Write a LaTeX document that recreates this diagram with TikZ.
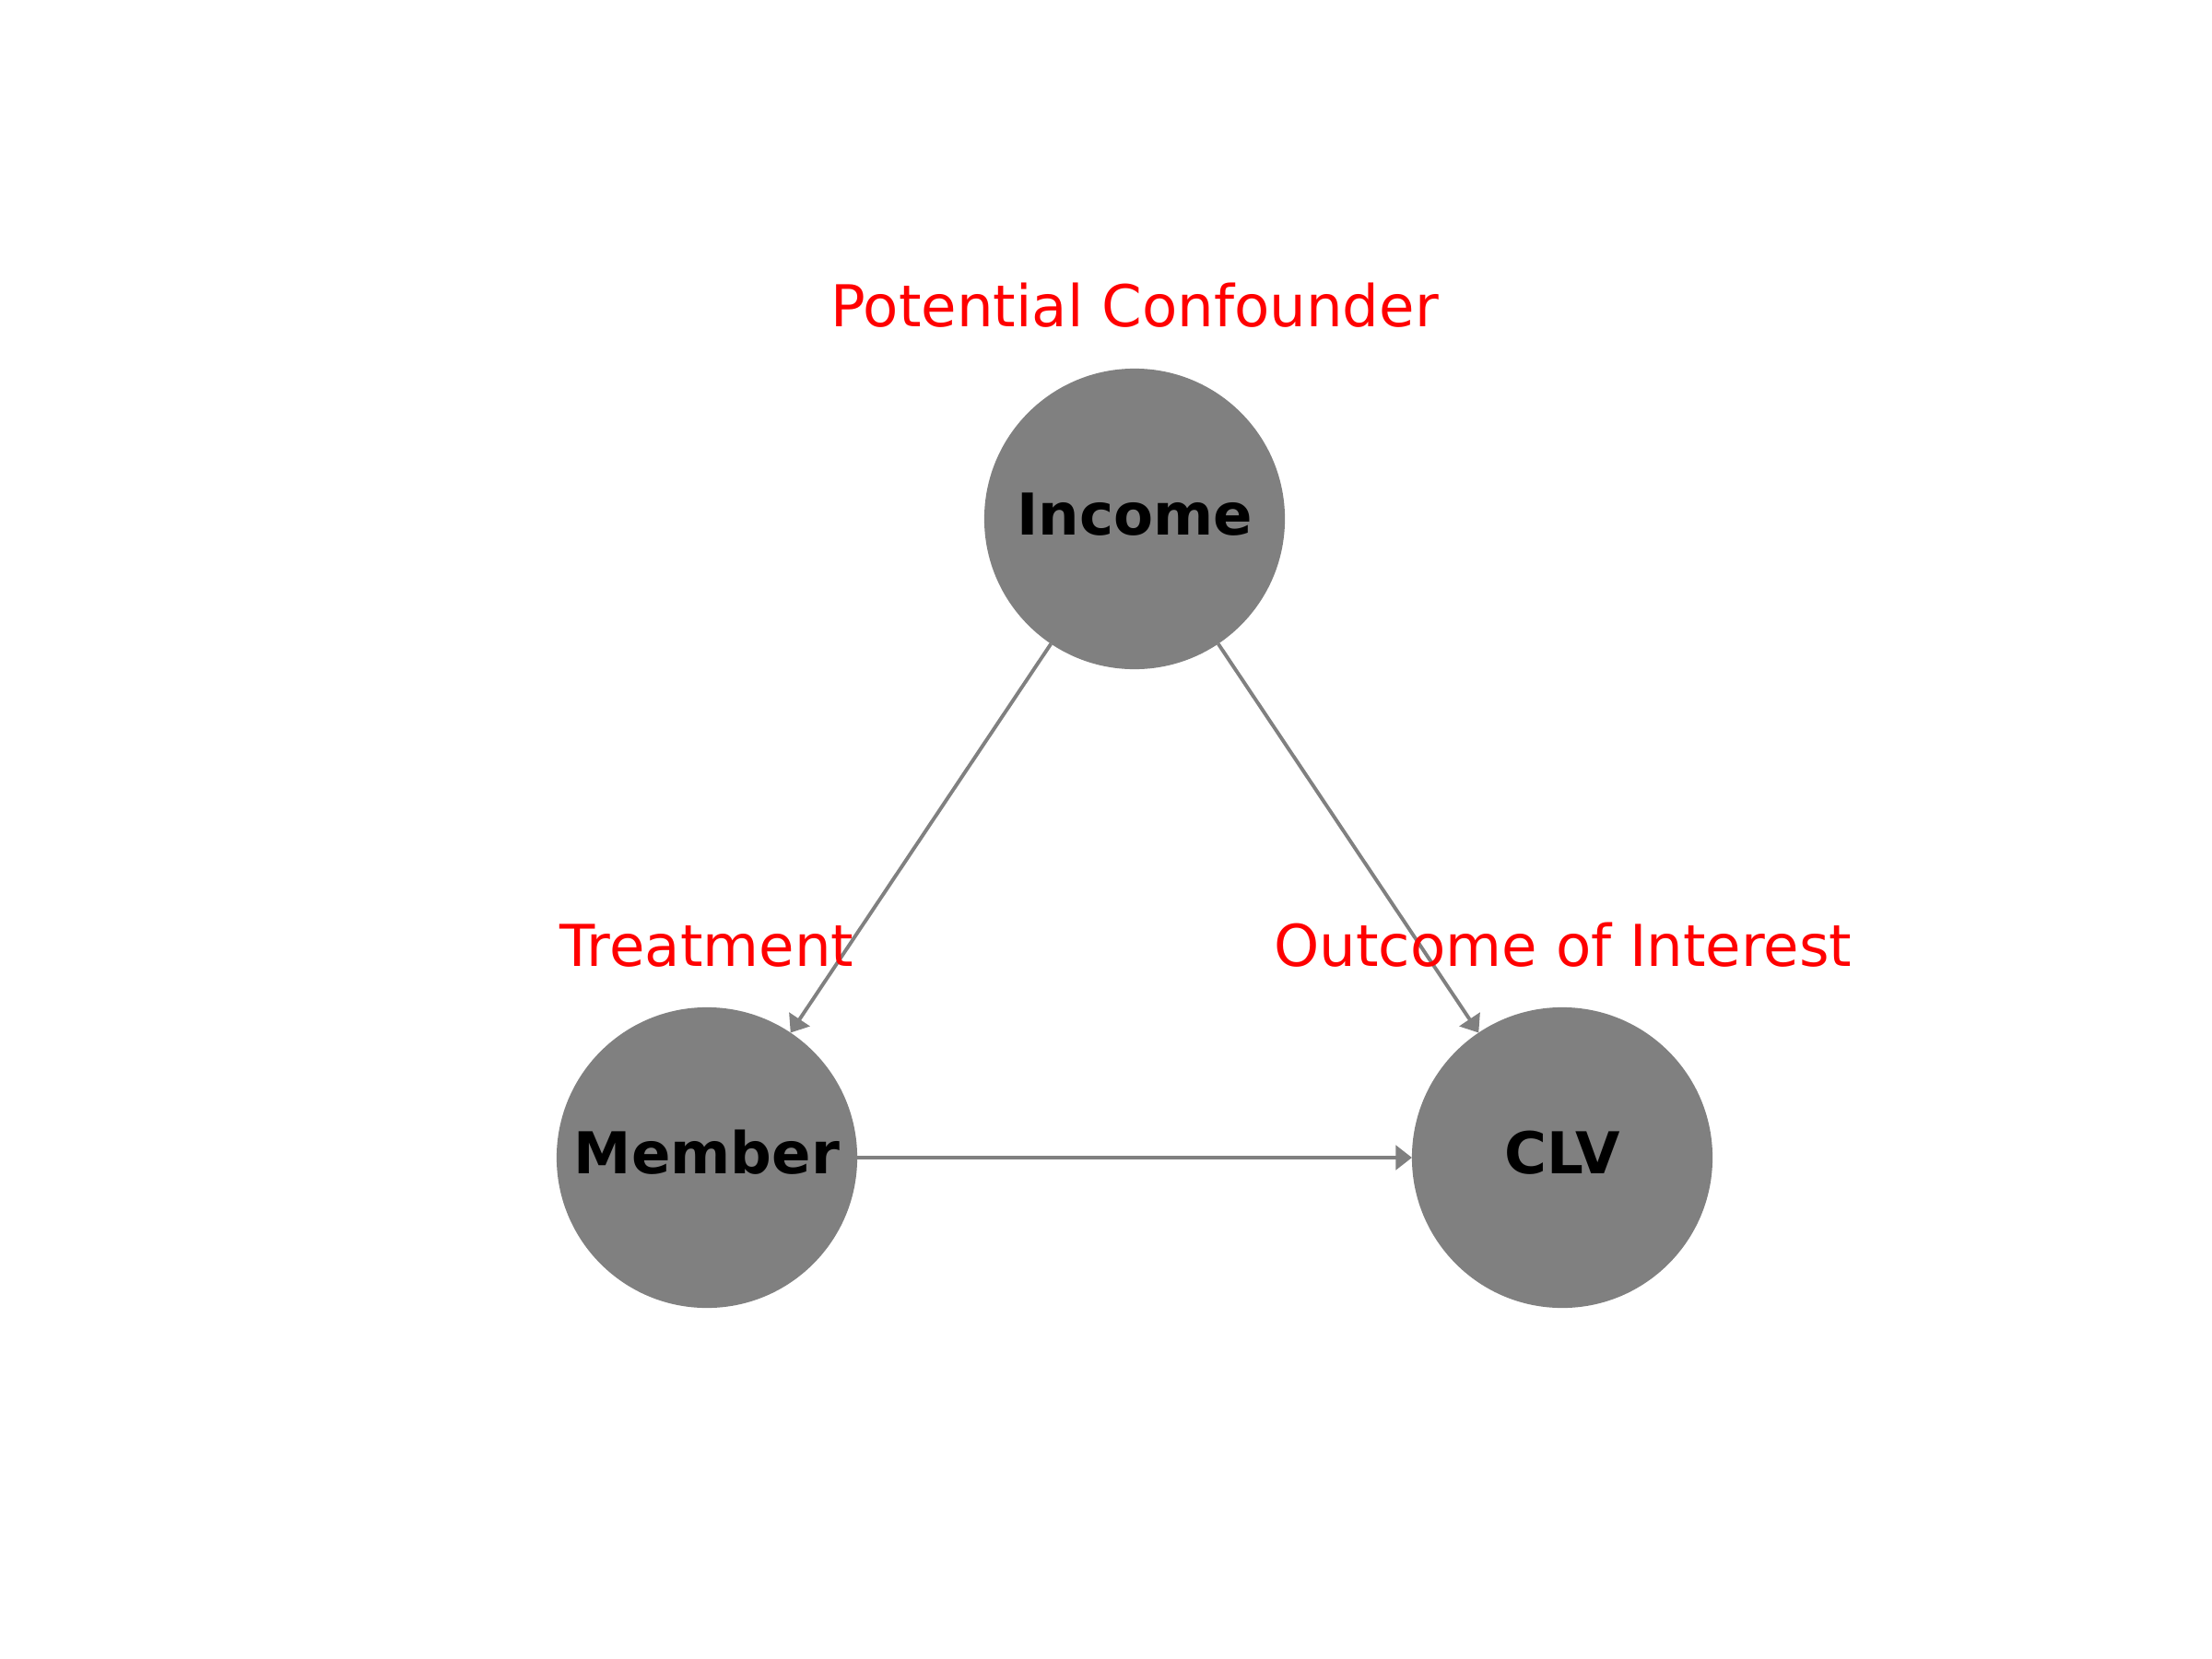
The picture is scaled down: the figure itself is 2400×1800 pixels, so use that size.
\documentclass[tikz,border=0pt]{standalone}
\usepackage{fontspec}
\setmainfont{DejaVu Sans}
\usetikzlibrary{arrows.meta}
\definecolor{nodegray}{HTML}{808080}
\definecolor{lblred}{HTML}{FF0000}
\begin{document}
\begin{tikzpicture}[x=0.01cm,y=-0.01cm,
  var/.style={circle, fill=nodegray, minimum size=3.26cm, inner sep=0pt, outer sep=0pt,
    text height=0.6cm, text depth=0.26cm,
    font=\fontsize{17.8}{21}\selectfont\bfseries, text=black},
  lbl/.style={text=lblred, font=\fontsize{17.8}{21}\selectfont, anchor=base, inner sep=0pt},
  edgeline/.style={draw=nodegray, line width=1.1pt, -{Triangle[length=5pt,width=7.5pt]}}]
\useasboundingbox (0,0) rectangle (2400,1800);
\node[var] (inc) at (1231,563) {Income};
\node[var] (mem) at (767,1256) {Member};
\node[var] (clv) at (1695,1256) {CLV};
\draw[edgeline] (inc) -- (mem);
\draw[edgeline] (inc) -- (clv);
\draw[edgeline] (mem) -- (clv);
\node[lbl] (linc) at (1231,354) {Potential Confounder};
\node[lbl] (lmem) at (767,1048) {Treatment};
\node[lbl] (lclv) at (1696,1048) {Outcome of Interest};
\end{tikzpicture}
\end{document}
